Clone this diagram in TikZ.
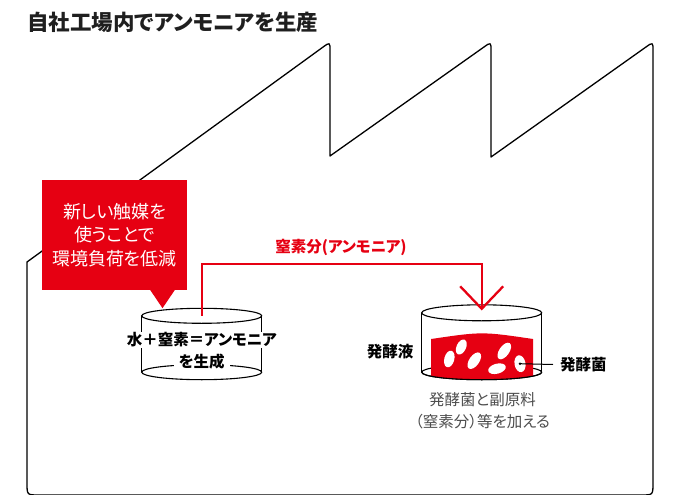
\documentclass[tikz,border=0pt]{standalone}
\usepackage{fontspec}
\setmainfont{Noto Sans CJK JP}[RawFeature=+palt]
\usetikzlibrary{arrows.meta,positioning,shapes.geometric}
\definecolor{brandred}{HTML}{E60012}
\definecolor{notegray}{HTML}{4D4D4D}
\tikzset{
  wall/.style={line width=1.3pt, line join=round},
  tankline/.style={line width=1.1pt},
  flow/.style={draw=brandred, line width=2.3pt},
  boldlabel/.style={font=\fontsize{15.5}{18}\selectfont\bfseries, inner sep=0pt},
  germ/.style={ellipse, fill=white, inner sep=0pt},
}

\begin{document}
\begin{tikzpicture}[x=1pt,y=-1pt]
  \useasboundingbox (0,0) rectangle (678,495);
  %% heading
  \node[anchor=west, inner sep=0pt, text=black!88,
        font=\fontsize{21.5}{24}\selectfont\bfseries] (heading) at (27,22) {自社工場内でアンモニアを生産};
  %% factory outline (saw-tooth roof)
  \draw[wall] (27,262) -- (322.7,47.3) .. controls (330,42) .. (330,51) -- (330,156)
    -- (483.7,47.2) .. controls (491,42) .. (491,51) -- (491,157)
    -- (645.7,47.2) .. controls (653,42) .. (653,51) -- (653,483)
    .. controls (653,495) .. (641,495) -- (39,495) .. controls (27,495) .. (27,483) -- cycle;
  %% callout
  \node[fill=brandred, minimum width=145pt, minimum height=110pt, inner sep=0pt, text=white,
        align=center, font=\fontsize{18}{23.3}\selectfont] (note) at (114.5,235)
        {新しい触媒を\\使うことで\\環境負荷を低減};
  \fill[brandred] ([xshift=35.5pt,yshift=0.5pt]note.south) -- ([xshift=60.5pt,yshift=0.5pt]note.south)
    -- ([xshift=48pt,yshift=-18pt]note.south) -- cycle;
  %% left tank
  \node[minimum width=120pt, minimum height=56pt, inner sep=0pt] (mixer) at (201.7,344) {};
  \draw[tankline] (mixer.north) ellipse [x radius=60pt, y radius=7.5pt];
  \draw[tankline] (mixer.south) ellipse [x radius=60pt, y radius=7.5pt];
  \draw[tankline] (mixer.north west) -- (mixer.south west) (mixer.north east) -- (mixer.south east);
  \node[boldlabel, fill=white, inner xsep=3pt, inner ysep=1pt] (reaction) at (201.7,340) {水＋窒素＝アンモニア};
  \node[boldlabel, fill=white, inner xsep=5pt, inner ysep=1pt] (product) at (201.7,361.7) {を生成};
  %% right tank
  \node[minimum width=120pt, minimum height=59pt, inner sep=0pt] (fermenter) at (481.7,342.5) {};
  \draw[tankline] (fermenter.south) ellipse [x radius=60pt, y radius=7.5pt];
  \fill[brandred] (431.2,339) .. controls (482,331.5) .. (533,339) -- (533,376)
    arc [start angle=-32, end angle=-148, x radius=60pt, y radius=7.5pt] -- cycle;
  \draw[tankline] ([xshift=-60pt]fermenter.south) arc [start angle=180, end angle=360, x radius=60pt, y radius=7.5pt];
  \draw[tankline] (fermenter.north) ellipse [x radius=60pt, y radius=8pt];
  \draw[tankline] (fermenter.north west) -- (fermenter.south west) (fermenter.north east) -- (fermenter.south east);
  %% bacteria
  \node[germ, minimum width=10pt, minimum height=17pt, rotate=-15] (germ1) at (449.3,359) {};
  \node[germ, minimum width=9.5pt, minimum height=16pt, rotate=-25] (germ2) at (461.3,347) {};
  \node[germ, minimum width=10pt, minimum height=19pt, rotate=-35] (germ3) at (474.3,360.7) {};
  \node[germ, minimum width=18pt, minimum height=10pt, rotate=15] (germ4) at (497,368.7) {};
  \node[germ, minimum width=10pt, minimum height=19pt, rotate=-35] (germ5) at (504.3,351) {};
  \node[germ, minimum width=11pt, minimum height=17pt, rotate=10] (germ6) at (520,363.7) {};
  %% ammonia line, open v head
  \coordinate (pipebend) at (341,264);
  \coordinate (dose) at ([yshift=4pt]fermenter.north);
  \node[boldlabel, text=brandred] (pipelabel) at (341,247) {窒素分(アンモニア)};
  \draw[flow] (mixer.north) |- (pipebend) -| (dose);
  \draw[flow] ([shift={(-21.5pt,22.5pt)}]dose) -- (dose) -- ([shift={(21.5pt,22.5pt)}]dose);
  %% labels
  \node[boldlabel, anchor=east] (broth) at (413.5,352) {発酵液};
  \node[boldlabel, anchor=west] (microbe) at (560,364.5) {発酵菌};
  \draw[line width=1pt] (germ6.center) -- ([xshift=-7pt]microbe.west);
  \fill (germ6.center) circle (1.4pt);
  \node[text=notegray, align=center, font=\fontsize{15.5}{22.4}\selectfont] (additive) at (482.5,410.5)
    {発酵菌と副原料\\（窒素分）等を加える};
\end{tikzpicture}
\end{document}
